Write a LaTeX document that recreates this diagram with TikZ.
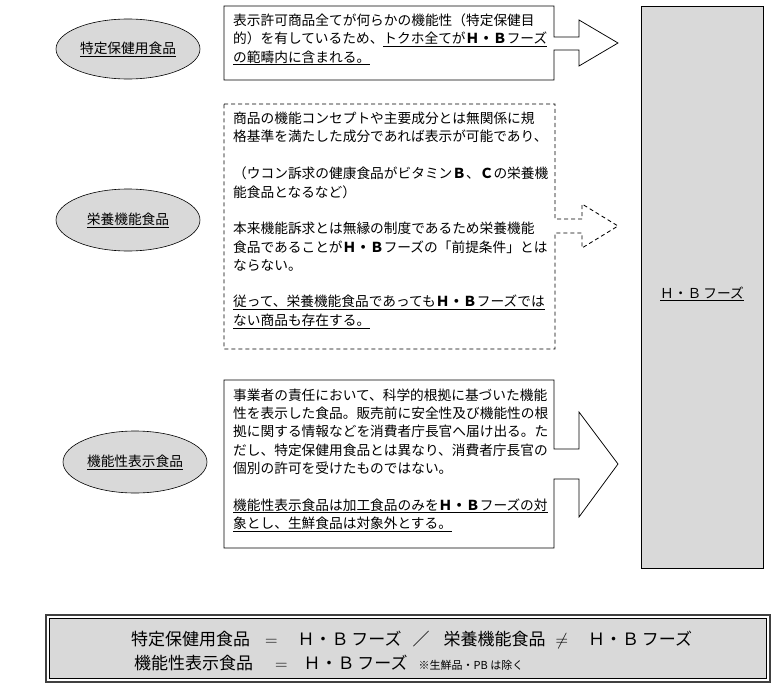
\documentclass[tikz,border=0pt]{standalone}
\usepackage{fontspec}
\newfontfamily\jp{Noto Sans CJK JP}
\usetikzlibrary{shapes.geometric}
\definecolor{hbgray}{HTML}{D9D9D9}
\newcommand{\hb}{{\bfseries Ｈ・Ｂ}}
\begin{document}
\begin{tikzpicture}[x=1pt, y=-1pt,
    every node/.style={font=\jp\fontsize{13.7}{18.3}\selectfont, inner sep=0pt},
    kind/.style={ellipse, draw, fill=hbgray, line width=.6pt, minimum width=144pt, minimum height=60pt},
    txt/.style={anchor=north west, align=left},
    frame/.style={line width=.75pt, line join=miter}]
  \useasboundingbox (0,0) rectangle (783,690);

      %%kinds of food
      \node[kind] (tokuho) at (128, 49){\underline{特定保健用食品}};
      \node[kind, minimum height=62pt] (eiyou) at (128, 220){\underline{栄養機能食品}};
      \node[kind, minimum height=62pt] (kinou) at (135, 462){\underline{機能性表示食品}};

      %%H.B foods
      \draw[fill=hbgray, line width=.8pt](641, 6) rectangle (763, 568);
      \node[anchor=base] (hbfoods) at (702, 298){\underline{Ｈ・Ｂ\,フーズ}};

      %%box 1
      \draw[frame](224, 6) -- (554, 6) -- (554, 37) -- (579, 37) -- (579, 20)
        -- (618, 43) -- (579, 66) -- (579, 50) -- (554, 50) -- (554, 80) -- (224, 80) -- cycle;
      \node[txt] (tokuhotxt) at (233, 13.5){%
        表示許可商品全てが何らかの機能性（特定保健目\\
        的）を有しているため、\underline{トクホ全てが\hb フーズ}\\
        \underline{の範疇内に含まれる。}};

      %%box 2
      \draw[frame, line width=.85pt, dash pattern=on 4pt off 3pt](224, 104) -- (555, 104) -- (555, 219) -- (582, 219) -- (582, 204)
        -- (618, 226) -- (582, 248) -- (582, 233) -- (555, 233) -- (555, 349) -- (224, 349) -- cycle;
      \node[txt] (eiyoutxt) at (233, 111.5){%
        商品の機能コンセプトや主要成分とは無関係に規\\
        格基準を満たした成分であれば表示が可能であり、\\[19pt]
        （ウコン訴求の健康食品がビタミン{\bfseries Ｂ}、{\bfseries Ｃ}の栄養機\\
        能食品となるなど）\\[18.3pt]
        本来機能訴求とは無縁の制度であるため栄養機能\\
        食品であることが\hb フーズの「前提条件」とは\\
        ならない。\\[18.3pt]
        \underline{従って、栄養機能食品であっても\hb フーズでは}\\
        \underline{ない商品も存在する。}};

      %%box 3
      \draw[frame](224, 380) -- (554, 380) -- (554, 449) -- (579, 449) -- (579, 412)
        -- (618, 464) -- (579, 517) -- (579, 479) -- (554, 479) -- (554, 548) -- (224, 548) -- cycle;
      \node[txt] (kinoutxt) at (233, 388.5){%
        事業者の責任において、科学的根拠に基づいた機能\\
        性を表示した食品。販売前に安全性及び機能性の根\\
        拠に関する情報などを消費者庁長官へ届け出る。た\\
        だし、特定保健用食品とは異なり、消費者庁長官の\\
        個別の許可を受けたものではない。\\[18.3pt]
        \underline{機能性表示食品は加工食品のみを\hb フーズの対}\\
        \underline{象とし、生鮮食品は対象外とする。}};

      %%summary
      \draw[line width=1.4pt, draw=black!75](46, 615) rectangle (770, 682);
      \draw[fill=hbgray, line width=.7pt](49.5, 618.5) rectangle (766.5, 678.5);
      \node[anchor=base west, font=\jp\fontsize{17}{20}\selectfont] (sum1) at (131, 645.5){%
        特定保健用食品\hspace{15pt}$=$\hspace{20pt}Ｈ・Ｂ\,フーズ\hspace{11pt}／\hspace{14pt}栄養機能食品\hspace{10pt}$\neq$\hspace{20pt}Ｈ・Ｂ\,フーズ};
      \node[anchor=base west, font=\jp\fontsize{17}{20}\selectfont] (sum2) at (134, 669.5){%
        機能性表示食品\hspace{22pt}$=$\hspace{16pt}Ｈ・Ｂ\,フーズ\hspace{11pt}{\fontsize{11}{13}\selectfont ※生鮮品・PB は除く}};

\end{tikzpicture}
\end{document}
